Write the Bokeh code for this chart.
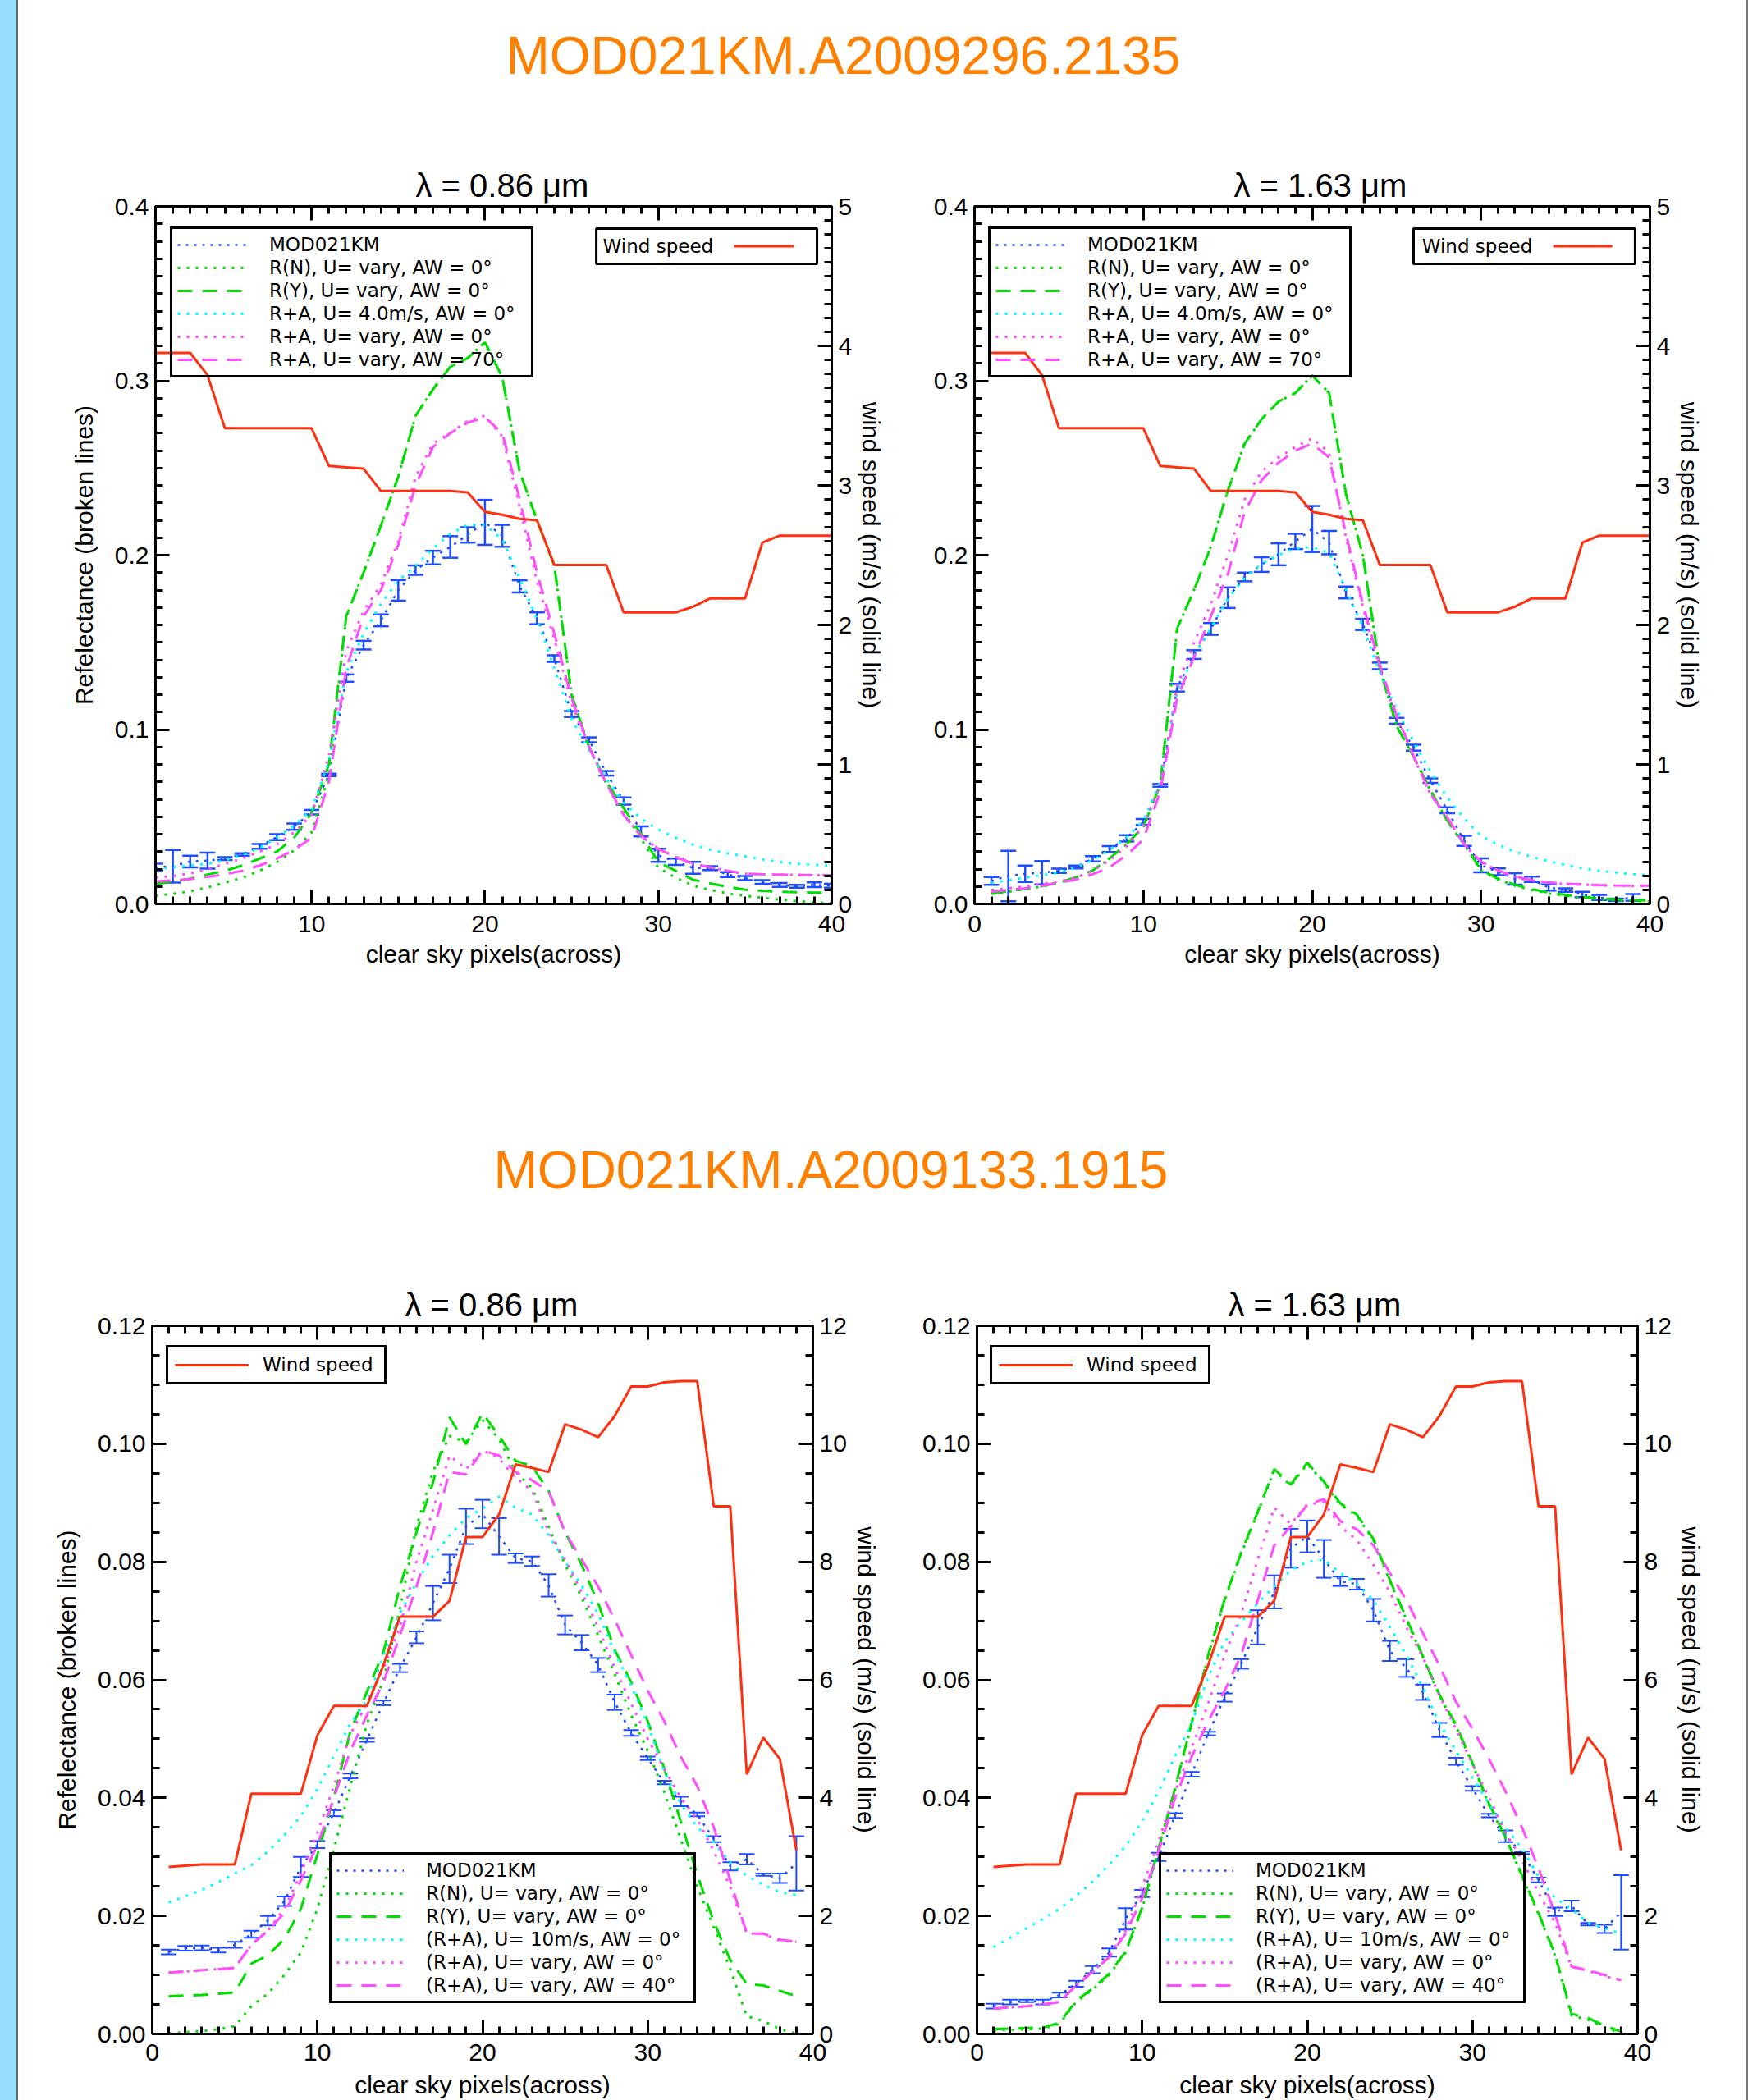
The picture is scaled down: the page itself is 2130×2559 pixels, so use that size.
from bokeh.plotting import figure
from bokeh.models import (Range1d, LinearAxis, FixedTicker, PrintfTickFormatter, Whisker, TeeHead,
                          ColumnDataSource, Legend, LegendItem, Label, BoxAnnotation, Spacer)
from bokeh.layouts import row, column
from bokeh.embed import file_html
from bokeh.resources import INLINE

# ------------------------------------------------------------------ texts
title_a = "MOD021KM.A2009296.2135"
title_b = "MOD021KM.A2009133.1915"
wl_titles = ["λ = 0.86 μm", "λ = 1.63 μm"]
xlabel = "clear sky pixels(across)"
ylabel_left = "Refelectance (broken lines)"
ylabel_right = "wind speed (m/s) (solid line)"
wind_label = "Wind speed"
legend_a = ["MOD021KM", "R(N), U= vary, AW = 0°", "R(Y), U= vary, AW = 0°",
            "R+A, U= 4.0m/s, AW = 0°", "R+A, U= vary, AW = 0°", "R+A, U= vary, AW = 70°"]
legend_b = ["MOD021KM", "R(N), U= vary, AW = 0°", "R(Y), U= vary, AW = 0°",
            "(R+A), U= 10m/s, AW = 0°", "(R+A), U= vary, AW = 0°", "(R+A), U= vary, AW = 40°"]

# ------------------------------------------------------------------ ticks
xticks_tl = [10, 20, 30, 40]
xticks_full = [0, 10, 20, 30, 40]
xminor = list(range(0, 41))
yticks_a = [0.0, 0.1, 0.2, 0.3, 0.4]
yminor_a = [i / 100 for i in range(0, 41)]
wticks_a = [0, 1, 2, 3, 4, 5]
wminor_a = [i / 10 for i in range(0, 51)]
yticks_b = [0.00, 0.02, 0.04, 0.06, 0.08, 0.10, 0.12]
yminor_b = [i / 200 for i in range(0, 25)]
wticks_b = [0, 2, 4, 6, 8, 10, 12]
wminor_b = [i / 2 for i in range(0, 25)]

# ------------------------------------------------------------------ granule A (2009296.2135)
x_a40 = list(range(1, 41))
x_a39 = list(range(1, 40))
wind_a = [3.95, 3.95, 3.95, 3.79, 3.41, 3.41, 3.41, 3.41, 3.41, 3.41, 3.14, 3.13, 3.12, 2.96, 2.96,
          2.96, 2.96, 2.96, 2.95, 2.81, 2.79, 2.76, 2.75, 2.43, 2.43, 2.43, 2.43, 2.09, 2.09, 2.09,
          2.09, 2.13, 2.19, 2.19, 2.19, 2.59, 2.64, 2.64, 2.64, 2.64]

# 0.86 um
obs_a1 = [0.0210, 0.0216, 0.0243, 0.0248, 0.0260, 0.0284, 0.0330, 0.0383, 0.0443, 0.0526, 0.0740,
          0.1295, 0.1484, 0.1626, 0.1798, 0.1914, 0.1986, 0.2047, 0.2116, 0.2188, 0.2111, 0.1821,
          0.1638, 0.1407, 0.1089, 0.0941, 0.0749, 0.0590, 0.0416, 0.0279, 0.0242, 0.0207, 0.0205,
          0.0168, 0.0148, 0.0126, 0.0109, 0.0101, 0.0110, 0.0104]
err_a1 = [0.0021, 0.0094, 0.0034, 0.0046, 0.0008, 0.0007, 0.0013, 0.0017, 0.0018, 0.0013, 0.0007,
          0.0021, 0.0025, 0.0034, 0.0059, 0.0027, 0.0039, 0.0062, 0.0044, 0.0129, 0.0063, 0.0035,
          0.0034, 0.0019, 0.0017, 0.0014, 0.0013, 0.0021, 0.0029, 0.0038, 0.0018, 0.0034, 0.0011,
          0.0014, 0.0012, 0.0011, 0.0011, 0.0008, 0.0013, 0.0011]
rn_a1 = [0.0047, 0.0058, 0.0072, 0.0095, 0.0122, 0.0150, 0.0190, 0.0240, 0.0307, 0.0410, 0.0740,
         0.1650, 0.1900, 0.2170, 0.2450, 0.2800, 0.2950, 0.3080, 0.3130, 0.3220, 0.3020, 0.2480,
         0.2200, 0.1940, 0.1200, 0.0900, 0.0690, 0.0530, 0.0376, 0.0207, 0.0150, 0.0105, 0.0080,
         0.0060, 0.0047, 0.0035, 0.0025, 0.0016, 0.0010, 0.0005]
ry_a1 = [0.0114, 0.0128, 0.0145, 0.0168, 0.0190, 0.0220, 0.0260, 0.0300, 0.0380, 0.0520, 0.0800,
         0.1650, 0.1900, 0.2170, 0.2450, 0.2800, 0.2950, 0.3080, 0.3130, 0.3220, 0.3020, 0.2480,
         0.2200, 0.1940, 0.1200, 0.0900, 0.0700, 0.0550, 0.0400, 0.0240, 0.0190, 0.0139, 0.0118,
         0.0098, 0.0081, 0.0075, 0.0070, 0.0067, 0.0065, 0.0063]
ra4_a1 = [0.0200, 0.0210, 0.0220, 0.0230, 0.0250, 0.0280, 0.0320, 0.0380, 0.0450, 0.0540, 0.0820,
          0.1330, 0.1550, 0.1720, 0.1854, 0.1939, 0.2038, 0.2122, 0.2174, 0.2174, 0.2090, 0.1870,
          0.1635, 0.1350, 0.1060, 0.0880, 0.0720, 0.0580, 0.0490, 0.0425, 0.0380, 0.0340, 0.0310,
          0.0290, 0.0273, 0.0255, 0.0240, 0.0230, 0.0225, 0.0220]
ra0_a1 = [0.0150, 0.0160, 0.0175, 0.0200, 0.0230, 0.0260, 0.0300, 0.0340, 0.0410, 0.0510, 0.0850,
          0.1450, 0.1680, 0.1830, 0.2080, 0.2450, 0.2640, 0.2700, 0.2770, 0.2800, 0.2680, 0.2280,
          0.1850, 0.1520, 0.1150, 0.0900, 0.0690, 0.0510, 0.0390, 0.0315, 0.0270, 0.0230, 0.0210,
          0.0190, 0.0173, 0.0170, 0.0168, 0.0166, 0.0165, 0.0165]
ra70_a1 = [0.0130, 0.0135, 0.0142, 0.0155, 0.0170, 0.0190, 0.0220, 0.0260, 0.0310, 0.0380, 0.0700,
           0.1350, 0.1650, 0.1800, 0.2060, 0.2400, 0.2620, 0.2700, 0.2760, 0.2790, 0.2700, 0.2320,
           0.1900, 0.1550, 0.1180, 0.0900, 0.0690, 0.0510, 0.0390, 0.0315, 0.0270, 0.0230, 0.0210,
           0.0190, 0.0173, 0.0170, 0.0168, 0.0166, 0.0165, 0.0165]

# 1.63 um
obs_a2 = [0.0132, 0.0160, 0.0173, 0.0179, 0.0190, 0.0212, 0.0259, 0.0315, 0.0376, 0.0470, 0.0680,
          0.1240, 0.1430, 0.1577, 0.1756, 0.1875, 0.1946, 0.2005, 0.2079, 0.2150, 0.2072, 0.1786,
          0.1603, 0.1365, 0.1050, 0.0896, 0.0707, 0.0537, 0.0362, 0.0221, 0.0184, 0.0144, 0.0141,
          0.0094, 0.0079, 0.0054, 0.0037, 0.0024, 0.0037]
err_a2 = [0.0022, 0.0145, 0.0047, 0.0067, 0.0012, 0.0008, 0.0015, 0.0017, 0.0018, 0.0017, 0.0008,
          0.0022, 0.0025, 0.0034, 0.0059, 0.0025, 0.0042, 0.0063, 0.0044, 0.0132, 0.0067, 0.0034,
          0.0032, 0.0019, 0.0017, 0.0017, 0.0013, 0.0017, 0.0029, 0.0040, 0.0019, 0.0033, 0.0015,
          0.0018, 0.0010, 0.0015, 0.0015, 0.0007, 0.0019]
rn_a2 = [0.0057, 0.0070, 0.0085, 0.0100, 0.0122, 0.0150, 0.0190, 0.0260, 0.0340, 0.0440, 0.0680,
         0.1580, 0.1800, 0.2050, 0.2370, 0.2640, 0.2780, 0.2880, 0.2930, 0.3030, 0.2930, 0.2350,
         0.2000, 0.1350, 0.1020, 0.0845, 0.0650, 0.0475, 0.0340, 0.0190, 0.0140, 0.0105, 0.0080,
         0.0060, 0.0047, 0.0035, 0.0027, 0.0020, 0.0017, 0.0014]
ry_a2 = [0.0060, 0.0072, 0.0087, 0.0102, 0.0124, 0.0152, 0.0192, 0.0262, 0.0342, 0.0442, 0.0685,
         0.1580, 0.1800, 0.2050, 0.2370, 0.2640, 0.2780, 0.2880, 0.2930, 0.3030, 0.2930, 0.2350,
         0.2000, 0.1350, 0.1020, 0.0845, 0.0652, 0.0478, 0.0345, 0.0195, 0.0145, 0.0110, 0.0085,
         0.0065, 0.0052, 0.0040, 0.0032, 0.0026, 0.0022, 0.0019]
ra4_a2 = [0.0120, 0.0135, 0.0150, 0.0165, 0.0180, 0.0210, 0.0250, 0.0310, 0.0380, 0.0480, 0.0700,
          0.1220, 0.1420, 0.1580, 0.1750, 0.1870, 0.1950, 0.2000, 0.2038, 0.2046, 0.2013, 0.1803,
          0.1585, 0.1332, 0.1115, 0.0930, 0.0760, 0.0610, 0.0490, 0.0390, 0.0340, 0.0300, 0.0270,
          0.0245, 0.0223, 0.0205, 0.0190, 0.0180, 0.0170, 0.0165]
ra0_a2 = [0.0080, 0.0090, 0.0100, 0.0115, 0.0130, 0.0150, 0.0190, 0.0250, 0.0330, 0.0450, 0.0680,
          0.1250, 0.1500, 0.1720, 0.2000, 0.2320, 0.2480, 0.2560, 0.2620, 0.2670, 0.2590, 0.2100,
          0.1700, 0.1350, 0.1070, 0.0845, 0.0627, 0.0494, 0.0340, 0.0240, 0.0190, 0.0156, 0.0135,
          0.0122, 0.0114, 0.0110, 0.0107, 0.0105, 0.0104, 0.0104]
ra70_a2 = [0.0070, 0.0080, 0.0090, 0.0105, 0.0120, 0.0140, 0.0170, 0.0210, 0.0280, 0.0370, 0.0645,
           0.1180, 0.1416, 0.1650, 0.1890, 0.2250, 0.2430, 0.2530, 0.2600, 0.2640, 0.2560, 0.2120,
           0.1720, 0.1370, 0.1080, 0.0850, 0.0630, 0.0496, 0.0342, 0.0242, 0.0192, 0.0158, 0.0136,
           0.0123, 0.0115, 0.0111, 0.0108, 0.0106, 0.0105, 0.0105]

# ------------------------------------------------------------------ granule B (2009133.1915)
x_b = list(range(1, 40))
wind_b = [2.83, 2.85, 2.87, 2.87, 2.87, 4.07, 4.07, 4.07, 4.07, 5.06, 5.56, 5.56, 5.56, 6.25, 7.07,
          7.07, 7.07, 7.34, 8.42, 8.42, 8.80, 9.65, 9.59, 9.52, 10.33, 10.24, 10.11, 10.47, 10.97,
          10.97, 11.04, 11.06, 11.06, 8.94, 8.94, 4.40, 5.02, 4.66, 3.11]

# 0.86 um
obs_b1 = [0.0139, 0.0145, 0.0146, 0.0142, 0.0151, 0.0169, 0.0192, 0.0225, 0.0283, 0.0321, 0.0374,
          0.0437, 0.0498, 0.0561, 0.0620, 0.0672, 0.0730, 0.0788, 0.0860, 0.0881, 0.0843, 0.0806,
          0.0801, 0.0760, 0.0693, 0.0663, 0.0625, 0.0562, 0.0510, 0.0467, 0.0426, 0.0394, 0.0372,
          0.0330, 0.0284, 0.0296, 0.0270, 0.0264, 0.0289]
err_b1 = [0.0004, 0.0004, 0.0004, 0.0004, 0.0005, 0.0006, 0.0008, 0.0008, 0.0017, 0.0006, 0.0005,
          0.0004, 0.0003, 0.0004, 0.0007, 0.0010, 0.0029, 0.0024, 0.0030, 0.0024, 0.0031, 0.0008,
          0.0008, 0.0019, 0.0016, 0.0013, 0.0012, 0.0013, 0.0005, 0.0003, 0.0003, 0.0008, 0.0003,
          0.0005, 0.0007, 0.0009, 0.0002, 0.0008, 0.0046]
rn_b1 = [0.0001, 0.0003, 0.0005, 0.0008, 0.0013, 0.0047, 0.0068, 0.0100, 0.0138, 0.0212, 0.0313,
         0.0420, 0.0526, 0.0600, 0.0721, 0.0860, 0.0953, 0.1013, 0.1003, 0.1040, 0.1008, 0.0952,
         0.0925, 0.0860, 0.0795, 0.0740, 0.0675, 0.0610, 0.0540, 0.0480, 0.0410, 0.0330, 0.0250,
         0.0180, 0.0110, 0.0030, 0.0022, 0.0008, 0.0001]
ry_b1 = [0.0064, 0.0065, 0.0066, 0.0068, 0.0070, 0.0119, 0.0133, 0.0161, 0.0212, 0.0304, 0.0401,
         0.0513, 0.0580, 0.0647, 0.0758, 0.0850, 0.0934, 0.1045, 0.0999, 0.1052, 0.1013, 0.0971,
         0.0962, 0.0920, 0.0850, 0.0795, 0.0730, 0.0651, 0.0596, 0.0530, 0.0450, 0.0360, 0.0270,
         0.0190, 0.0125, 0.0085, 0.0082, 0.0073, 0.0064]
ra10_b1 = [0.0223, 0.0233, 0.0244, 0.0257, 0.0272, 0.0286, 0.0309, 0.0337, 0.0369, 0.0415, 0.0471,
           0.0526, 0.0565, 0.0640, 0.0712, 0.0765, 0.0810, 0.0845, 0.0874, 0.0890, 0.0910, 0.0892,
           0.0880, 0.0845, 0.0800, 0.0760, 0.0712, 0.0647, 0.0590, 0.0525, 0.0445, 0.0390, 0.0350,
           0.0325, 0.0290, 0.0268, 0.0253, 0.0240, 0.0235]
ra0_b1 = [0.0104, 0.0106, 0.0108, 0.0110, 0.0112, 0.0151, 0.0175, 0.0212, 0.0272, 0.0341, 0.0420,
          0.0508, 0.0560, 0.0620, 0.0689, 0.0800, 0.0888, 0.0980, 0.0957, 0.0989, 0.0975, 0.0943,
          0.0920, 0.0850, 0.0804, 0.0749, 0.0689, 0.0620, 0.0560, 0.0500, 0.0450, 0.0400, 0.0364,
          0.0310, 0.0249, 0.0170, 0.0170, 0.0158, 0.0156]
ra40_b1 = [0.0104, 0.0106, 0.0108, 0.0110, 0.0112, 0.0151, 0.0175, 0.0205, 0.0260, 0.0320, 0.0400,
           0.0480, 0.0540, 0.0596, 0.0675, 0.0758, 0.0850, 0.0952, 0.0948, 0.0989, 0.0980, 0.0952,
           0.0938, 0.0920, 0.0850, 0.0804, 0.0758, 0.0702, 0.0642, 0.0582, 0.0530, 0.0470, 0.0420,
           0.0350, 0.0260, 0.0170, 0.0170, 0.0160, 0.0156]

# 1.63 um
obs_b2 = [0.0047, 0.0054, 0.0056, 0.0054, 0.0066, 0.0085, 0.0109, 0.0138, 0.0195, 0.0238, 0.0300,
          0.0370, 0.0440, 0.0509, 0.0570, 0.0627, 0.0689, 0.0749, 0.0823, 0.0843, 0.0805, 0.0767,
          0.0762, 0.0718, 0.0649, 0.0620, 0.0579, 0.0515, 0.0462, 0.0416, 0.0370, 0.0335, 0.0307,
          0.0261, 0.0207, 0.0217, 0.0186, 0.0178, 0.0206]
err_b2 = [0.0004, 0.0004, 0.0002, 0.0004, 0.0004, 0.0005, 0.0006, 0.0007, 0.0018, 0.0006, 0.0007,
          0.0004, 0.0004, 0.0003, 0.0007, 0.0008, 0.0029, 0.0028, 0.0033, 0.0027, 0.0032, 0.0008,
          0.0009, 0.0019, 0.0017, 0.0015, 0.0013, 0.0012, 0.0006, 0.0004, 0.0003, 0.0010, 0.0002,
          0.0004, 0.0007, 0.0009, 0.0002, 0.0007, 0.0063]
rn_b2 = [0.0006, 0.0007, 0.0008, 0.0009, 0.0017, 0.0054, 0.0075, 0.0100, 0.0138, 0.0212, 0.0313,
         0.0415, 0.0526, 0.0640, 0.0735, 0.0814, 0.0883, 0.0955, 0.0929, 0.0966, 0.0934, 0.0897,
         0.0878, 0.0837, 0.0767, 0.0702, 0.0638, 0.0573, 0.0522, 0.0457, 0.0388, 0.0332, 0.0267,
         0.0203, 0.0133, 0.0031, 0.0024, 0.0011, 0.0001]
ry_b2 = [0.0008, 0.0009, 0.0010, 0.0011, 0.0019, 0.0056, 0.0077, 0.0102, 0.0140, 0.0214, 0.0315,
         0.0417, 0.0528, 0.0642, 0.0737, 0.0816, 0.0885, 0.0957, 0.0931, 0.0968, 0.0936, 0.0899,
         0.0880, 0.0839, 0.0769, 0.0704, 0.0640, 0.0575, 0.0524, 0.0459, 0.0390, 0.0334, 0.0269,
         0.0205, 0.0135, 0.0034, 0.0027, 0.0014, 0.0004]
ra10_b2 = [0.0147, 0.0163, 0.0179, 0.0195, 0.0212, 0.0234, 0.0258, 0.0287, 0.0318, 0.0360, 0.0411,
           0.0471, 0.0526, 0.0605, 0.0665, 0.0698, 0.0730, 0.0758, 0.0786, 0.0800, 0.0804, 0.0781,
           0.0763, 0.0735, 0.0689, 0.0642, 0.0587, 0.0526, 0.0480, 0.0434, 0.0390, 0.0350, 0.0314,
           0.0267, 0.0230, 0.0212, 0.0188, 0.0179, 0.0170]
ra0_b2 = [0.0043, 0.0045, 0.0047, 0.0050, 0.0054, 0.0082, 0.0105, 0.0133, 0.0175, 0.0249, 0.0327,
          0.0411, 0.0485, 0.0560, 0.0642, 0.0712, 0.0804, 0.0892, 0.0864, 0.0897, 0.0901, 0.0860,
          0.0837, 0.0795, 0.0749, 0.0689, 0.0638, 0.0573, 0.0517, 0.0457, 0.0401, 0.0341, 0.0295,
          0.0239, 0.0188, 0.0114, 0.0107, 0.0098, 0.0091]
ra40_b2 = [0.0043, 0.0045, 0.0047, 0.0050, 0.0054, 0.0082, 0.0105, 0.0130, 0.0170, 0.0230, 0.0310,
           0.0400, 0.0470, 0.0530, 0.0582, 0.0642, 0.0735, 0.0828, 0.0860, 0.0897, 0.0906, 0.0869,
           0.0855, 0.0828, 0.0781, 0.0735, 0.0679, 0.0624, 0.0563, 0.0517, 0.0466, 0.0411, 0.0350,
           0.0281, 0.0203, 0.0114, 0.0108, 0.0100, 0.0091]

# ------------------------------------------------------------------ styles
FONT = "Liberation Sans"
LEG_FONT = "DejaVu Sans"
LEG_SIZE = "23px"
BLUE = "#1f4cff"
GREEN = "#00dd00"
CYAN = "#00ffff"
MAGENTA = "#ff4dff"
RED = "#ff3010"
ORANGE = "#ff8000"
DOT = "3 8"
DASH = "18 12"


def style_axis(ax, ticks, minor, fmt, show_labels=True):
    ax.ticker = FixedTicker(ticks=ticks, minor_ticks=minor)
    ax.formatter = PrintfTickFormatter(format=fmt)
    ax.axis_line_width = 3
    ax.axis_line_color = "black"
    ax.major_tick_in = 17
    ax.major_tick_out = 0
    ax.minor_tick_in = 9
    ax.minor_tick_out = 0
    ax.major_tick_line_width = 3
    ax.minor_tick_line_width = 3
    ax.major_tick_line_color = "black"
    ax.minor_tick_line_color = "black"
    ax.major_label_text_font = FONT
    ax.major_label_text_font_size = "30px" if show_labels else "1px"
    ax.major_label_text_color = "black" if show_labels else None
    ax.axis_label_text_font = FONT
    ax.axis_label_text_font_size = "30px"
    ax.axis_label_text_font_style = "normal"
    ax.axis_label_text_color = "black"


def make_panel(spec):
    p = figure(width=spec["w"], height=spec["h"],
               x_range=Range1d(*spec["xr"]), y_range=Range1d(*spec["yr"]),
               output_backend="svg", toolbar_location=None, title=spec["title"],
               min_border_left=spec["mb"][0], min_border_right=spec["mb"][1],
               min_border_top=spec["mb"][2], min_border_bottom=spec["mb"][3])
    p.extra_y_ranges = {"wind": Range1d(*spec["wr"])}
    p.grid.visible = False
    p.outline_line_color = "black"
    p.outline_line_width = 3
    p.background_fill_color = "white"
    p.border_fill_color = "white"
    p.title.text_font = FONT
    p.title.text_font_size = "40px"
    p.title.text_font_style = "normal"
    p.title.text_color = "black"
    p.title.align = "left"
    p.title.offset = spec["title_off"]
    p.title.standoff = 8

    # axes
    xb = p.xaxis[0]
    style_axis(xb, spec["xticks"], xminor, "%d")
    xb.major_label_standoff = spec["xls"]
    xb.axis_label = xlabel
    xb.axis_label_standoff = spec["xas"]
    xt = LinearAxis()
    style_axis(xt, spec["xticks"], xminor, "%d", show_labels=False)
    xt.major_label_standoff = 0
    p.add_layout(xt, "above")
    yl = p.yaxis[0]
    style_axis(yl, spec["yticks"], spec["yminor"], spec["yfmt"])
    yl.major_label_standoff = 8
    if spec["left_label"]:
        yl.axis_label = ylabel_left
        yl.axis_label_standoff = 18
    yr = LinearAxis(y_range_name="wind", axis_label=ylabel_right)
    style_axis(yr, spec["wticks"], spec["wminor"], "%d")
    yr.major_label_standoff = 8
    yr.axis_label_standoff = 4
    p.add_layout(yr, "right")

    xm, xo = spec["x_model"], spec["x_obs"]
    # observations with error bars
    r_obs = p.line(xo, spec["obs"], line_color=BLUE, line_width=2.5, line_dash="3 7")
    lo = [v - e for v, e in zip(spec["obs"], spec["err"])]
    hi = [v + e for v, e in zip(spec["obs"], spec["err"])]
    src = ColumnDataSource(dict(x=xo, lo=lo, hi=hi))
    bw = spec["barw"]
    p.add_layout(Whisker(source=src, base="x", lower="lo", upper="hi", dimension="height",
                         line_color=BLUE, line_width=bw,
                         upper_head=TeeHead(size=19, line_color=BLUE, line_width=bw),
                         lower_head=TeeHead(size=19, line_color=BLUE, line_width=bw)))
    r_rn = p.line(xm, spec["rn"], line_color=GREEN, line_width=3, line_dash=DOT)
    r_ry = p.line(xm, spec["ry"], line_color=GREEN, line_width=3, line_dash=DASH)
    r_ra = p.line(xm, spec["ra"], line_color=CYAN, line_width=3, line_dash=DOT)
    r_m0 = p.line(xm, spec["m0"], line_color=MAGENTA, line_width=3, line_dash=DOT)
    r_m1 = p.line(xm, spec["m1"], line_color=MAGENTA, line_width=3, line_dash=DASH)
    r_w = p.line(spec["x_wind"], spec["wind"], line_color=RED, line_width=3, y_range_name="wind")

    rends = [r_obs, r_rn, r_ry, r_ra, r_m0, r_m1]
    leg = Legend(items=[LegendItem(label=t, renderers=[r]) for t, r in zip(spec["labels"], rends)],
                 location=spec["leg_loc"], orientation="vertical",
                 label_text_font=LEG_FONT, label_text_font_size=LEG_SIZE, label_text_color="black",
                 glyph_width=spec["leg_glyph"], glyph_height=22, label_height=22,
                 label_width=spec["leg_lw"], label_standoff=spec["leg_so"],
                 spacing=2, padding=6, margin=0,
                 border_line_color="black", border_line_width=3, border_line_alpha=1,
                 background_fill_alpha=0, inactive_fill_alpha=0)
    p.add_layout(leg)

    # wind speed legend
    wl = spec["wind_leg"]
    if wl["kind"] == "legend":
        wleg = Legend(items=[LegendItem(label=wind_label, renderers=[r_w])],
                      location=wl["loc"], label_text_font=LEG_FONT, label_text_font_size=LEG_SIZE,
                      label_text_color="black", glyph_width=90, glyph_height=22, label_height=22,
                      label_width=140, label_standoff=17, padding=8, margin=0,
                      border_line_color="black", border_line_width=3, border_line_alpha=1,
                      background_fill_alpha=0)
        p.add_layout(wleg)
    else:
        p.add_layout(BoxAnnotation(left=wl["box"][0], right=wl["box"][1], top=wl["box"][2],
                                   bottom=wl["box"][3], fill_alpha=0, line_color="black",
                                   line_width=3, line_alpha=1))
        p.add_layout(Label(x=wl["text"][0], y=wl["text"][1], text=wind_label, text_font=LEG_FONT,
                           text_font_size=LEG_SIZE, text_baseline="middle", text_align="left",
                           text_color="black"))
        p.add_layout(BoxAnnotation(left=wl["line"][0], right=wl["line"][1],
                                   top=wl["text"][1] + wl["lh"], bottom=wl["text"][1] - wl["lh"],
                                   fill_color=RED, fill_alpha=1, line_alpha=0))
    return p


common_a = dict(h=1111, yr=(0, 0.4), wr=(0, 5), yticks=yticks_a, yminor=yminor_a, yfmt="%.1f",
                wticks=wticks_a, wminor=wminor_a, x_model=x_a40, x_wind=x_a40, wind=wind_a,
                labels=legend_a, leg_glyph=84, leg_lw=313, leg_so=28, barw=2.5, xls=14, xas=7)
common_b = dict(h=1059, yr=(0, 0.12), wr=(0, 12), yticks=yticks_b, yminor=yminor_b, yfmt="%.2f",
                wticks=wticks_b, wminor=wminor_b, x_model=x_b, x_wind=x_b, wind=wind_b, x_obs=x_b,
                labels=legend_b, leg_glyph=82, leg_lw=320, leg_so=27, barw=2, xls=12, xas=10)

p1 = make_panel(dict(common_a, w=1078, mb=(167, 87, 111, 150), xr=(1, 40), xticks=xticks_tl,
                     left_label=True, x_obs=x_a40, obs=obs_a1, err=err_a1, rn=rn_a1, ry=ry_a1,
                     ra=ra4_a1, m0=ra0_a1, m1=ra70_a1, leg_loc=(18, 641),
                     wind_leg=dict(kind="manual", box=(26.42, 39.15, 0.3873, 0.3671),
                                   text=(26.8, 0.3772), line=(34.37, 37.82), lh=0.0007),
                     title=wl_titles[0], title_off=317))
p2 = make_panel(dict(common_a, w=1027, mb=(87, 117, 111, 150), xr=(0, 40), xticks=xticks_full,
                     left_label=False, x_obs=x_a39, obs=obs_a2, err=err_a2, rn=rn_a2, ry=ry_a2,
                     ra=ra4_a2, m0=ra0_a2, m1=ra70_a2, leg_loc=(17, 641),
                     wind_leg=dict(kind="manual", box=(26.0, 39.12, 0.3873, 0.3671),
                                   text=(26.5, 0.3772), line=(34.27, 37.77), lh=0.0007),
                     title=wl_titles[1], title_off=316))
p3 = make_panel(dict(common_b, w=1068, mb=(163, 100, 115, 80), xr=(0, 40), xticks=xticks_full,
                     left_label=True, obs=obs_b1, err=err_b1, rn=rn_b1, ry=ry_b1,
                     ra=ra10_b1, m0=ra0_b1, m1=ra40_b1, leg_loc=(216, 37),
                     wind_leg=dict(kind="legend", loc=(17, 791)),
                     title=wl_titles[0], title_off=308))
p4 = make_panel(dict(common_b, w=1037, mb=(100, 132, 115, 80), xr=(0, 40), xticks=xticks_full,
                     left_label=False, obs=obs_b2, err=err_b2, rn=rn_b2, ry=ry_b2,
                     ra=ra10_b2, m0=ra0_b2, m1=ra40_b2, leg_loc=(222, 37),
                     wind_leg=dict(kind="legend", loc=(16, 791)),
                     title=wl_titles[1], title_off=306))


def header(h, text, tx, ty):
    f = figure(width=2105, height=h, x_range=Range1d(0, 1), y_range=Range1d(0, 1),
               x_axis_type=None, y_axis_type=None, output_backend="svg", toolbar_location=None,
               min_border=0, outline_line_color=None)
    f.add_layout(Label(x=tx, y=ty, text=text, text_font=FONT, text_font_size="64px",
                       text_color=ORANGE, text_align="center", text_baseline="alphabetic"))
    return f


h1 = header(140, title_a, 0.4774, 0.521)
h2 = header(249, title_b, 0.4703, 0.301)

content = column(h1, row(p1, p2), h2, row(p3, p4))
page = row(Spacer(width=20, height=2559, styles={"background-color": "#99ddff"}),
           Spacer(width=2, height=2559, styles={"background-color": "#666666"}),
           content,
           Spacer(width=3, height=2559, styles={"background-color": "#777777"}))

open("out.html", "w").write(file_html(page, INLINE, title="MODIS reflectance"))
